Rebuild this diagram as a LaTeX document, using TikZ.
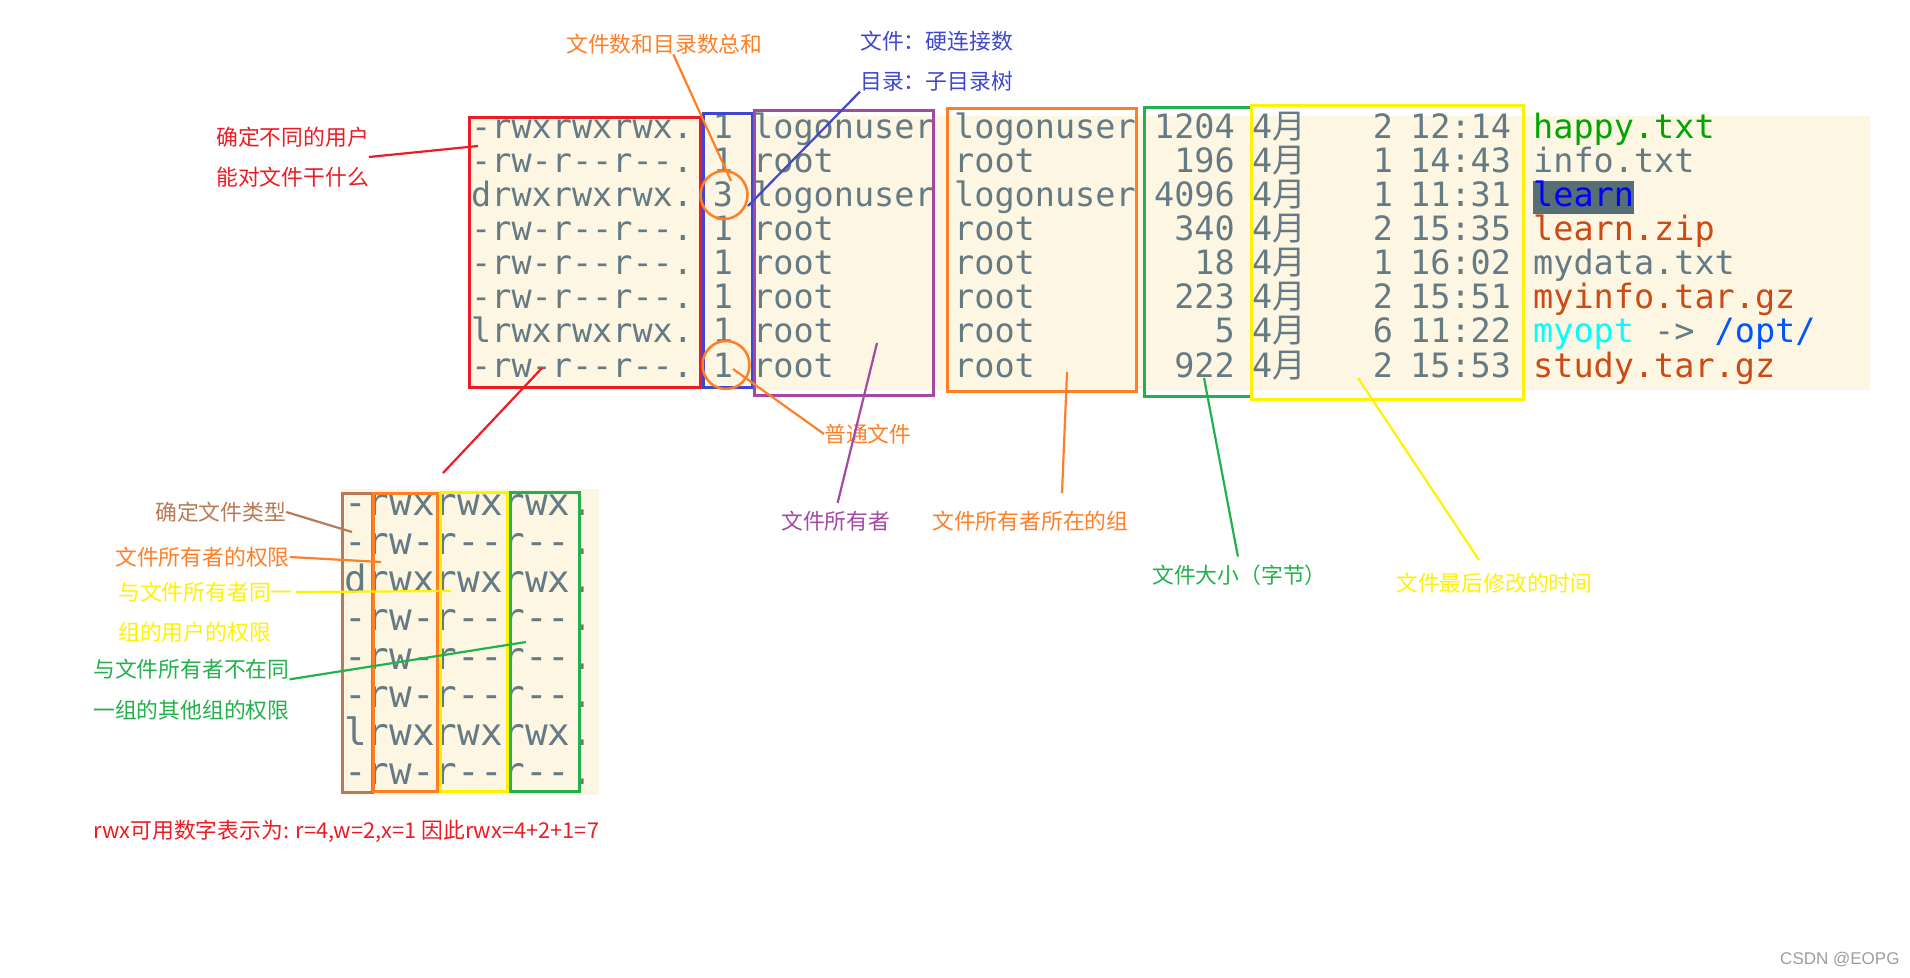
\documentclass[tikz,border=0pt]{standalone}
\usepackage{fontspec}
\usepackage{xcolor}
\usepackage{tikz}
\usetikzlibrary{positioning,shapes.geometric,calc}

\setmainfont{Noto Sans CJK SC}
\newfontfamily\ttyfont{DejaVu Sans Mono}[Ligatures=TeXOff]
\newfontfamily\zhfont{Noto Sans CJK SC}
\newfontfamily\wmfont{Liberation Sans}

\definecolor{termbg}{HTML}{FDF6E3}
\definecolor{termfg}{HTML}{657B83}
\definecolor{hlgray}{HTML}{586E75}
\definecolor{pred}{HTML}{ED1C24}
\definecolor{porange}{HTML}{FF7F27}
\definecolor{pyellow}{HTML}{FFF200}
\definecolor{pgreen}{HTML}{22B14C}
\definecolor{pblue}{HTML}{3F48CC}
\definecolor{ppurple}{HTML}{A349A4}
\definecolor{pbrown}{HTML}{B97A57}
\definecolor{fgreen}{HTML}{00A600}
\definecolor{forange}{HTML}{CB4B16}
\definecolor{fcyan}{HTML}{00FFFF}
\definecolor{fblue}{HTML}{0055FF}
\definecolor{dirblue}{HTML}{0000FF}

\newcommand{\apr}{4{\zhfont 月}}

\begin{document}
\begin{tikzpicture}[
  x=1pt, y=-1pt,
  tty/.style={inner sep=0pt, text=termfg, font=\ttyfont\fontsize{33.5}{34.1}\selectfont,
    align=left, anchor=base west},
  ttyr/.style={tty, align=right, anchor=base east},
  ttyc/.style={tty, align=center, anchor=base},
  bigtty/.style={tty, font=\ttyfont\fontsize{37.6}{38.3}\selectfont},
  lbl/.style={inner sep=0pt, font=\zhfont\fontsize{21.8}{40.5}\selectfont, align=left, anchor=west},
  colbox/.style={line width=3pt},
  ring/.style={draw=porange, line width=2.5pt, ellipse, minimum width=47pt,
    minimum height=48pt, inner sep=0pt},
  note/.style={line width=2.2pt},
]
\fill[white] (0,0) rectangle (1910,977);
\useasboundingbox (0,0) rectangle (1910,977);

% ===== ls -l listing (nodes sit on the baseline of their last row) =====
\fill[termbg] (469,116) rectangle (1870,390);
\fill[hlgray] (1533,181) rectangle (1634,214);

\node[tty] (perms) at (471,377) {-rwxrwxrwx.\\-rw-r--r--.\\drwxrwxrwx.\\-rw-r--r--.\\-rw-r--r--.\\-rw-r--r--.\\lrwxrwxrwx.\\-rw-r--r--.};
\node[ttyc] (links) at (723,377) {1\\1\\3\\1\\1\\1\\1\\1};
\node[tty] (owner) at (753,377) {logonuser\\root\\logonuser\\root\\root\\root\\root\\root};
\node[tty] (group) at (954,377) {logonuser\\root\\logonuser\\root\\root\\root\\root\\root};
\node[ttyr] (size) at (1235,377) {1204\\196\\4096\\340\\18\\223\\5\\922};
\node[tty] (month) at (1252,377) {\apr\\\apr\\\apr\\\apr\\\apr\\\apr\\\apr\\\apr};
\node[ttyc] (day) at (1383,377) {2\\1\\1\\2\\1\\2\\6\\2};
\node[tty] (time) at (1410,377) {12:14\\14:43\\11:31\\15:35\\16:02\\15:51\\11:22\\15:53};
\node[tty] (files) at (1533,377) {\textcolor{fgreen}{happy.txt}\\info.txt\\\textcolor{dirblue}{learn}\\
  \textcolor{forange}{learn.zip}\\mydata.txt\\\textcolor{forange}{myinfo.tar.gz}\\
  \textcolor{fcyan}{myopt} -> \textcolor{fblue}{/opt/}\\\textcolor{forange}{study.tar.gz}};

% column frames
\draw[colbox, pred] (469,117) rectangle (700,387);
\draw[colbox, pblue] (703,113) rectangle (752,387);
\draw[colbox, ppurple] (754,110) rectangle (933,395);
\draw[colbox, porange] (947,108) rectangle (1136,391);
\draw[colbox, pgreen] (1144,107) rectangle (1251,396);
\draw[colbox, pyellow] (1251,105) rectangle (1523,399);

\node[ring] (c3) at (724,195) {};
\node[ring] (c1) at (726,365) {};

% ===== labels, top =====
\node[lbl, text=pred] (lbuser) at (216,157) {确定不同的用户\\能对文件干什么};
\node[lbl, text=porange] (lbsum) at (566,44) {文件数和目录数总和};
\node[lbl, text=pblue] (lblink) at (860,61) {文件：硬连接数\\目录：子目录树};
\node[lbl, text=porange] (lbfile) at (824,434) {普通文件};
\node[lbl, text=ppurple] (lbowner) at (781,521) {文件所有者};
\node[lbl, text=porange] (lbgroup) at (932,521) {文件所有者所在的组};
\node[lbl, text=pgreen] (lbsize) at (1152,575) {文件大小（字节）};
\node[lbl, text=pyellow] (lbtime) at (1396,583) {文件最后修改的时间};

\coordinate (usertip) at (478,146);
\coordinate (permA) at (542,368);
\coordinate (permB) at (443,473);
\coordinate (sumtip) at (731,181);
\coordinate (linktip) at (748,206);
\coordinate (filetip) at (733,369);
\coordinate (ownertip) at (877,343);
\coordinate (grpA) at (1067,372);
\coordinate (grpB) at (1062,493);
\coordinate (sizetip) at (1204,378);
\coordinate (timeA) at (1358,378);
\coordinate (timeB) at (1479,560);

\draw[note, pred] (lbuser.east) -- (usertip);
\draw[note, pred] (permA) -- (permB);
\draw[note, porange] ([xshift=9pt]lbsum.south) -- (sumtip);
\draw[note, pblue] (lblink.south west) -- (linktip);
\draw[note, porange] (filetip) -- (lbfile.west);
\draw[note, ppurple, shorten >=8pt] (ownertip) -- (lbowner.north);
\draw[note, porange] (grpA) -- (grpB);
\draw[note, pgreen, shorten >=8pt] (sizetip) -- (lbsize.north);
\draw[note, pyellow] (timeA) -- (timeB);

% ===== permission bits, zoomed =====
\fill[termbg] (342,489) rectangle (599,795);
\node[bigtty] (bits) at (344,784) {-rwxrwxrwx.\\-rw-r--r--.\\drwxrwxrwx.\\-rw-r--r--.\\-rw-r--r--.\\-rw-r--r--.\\lrwxrwxrwx.\\-rw-r--r--.};
\draw[colbox, pbrown] (342,493) rectangle (372,792);
\draw[colbox, porange] (373,493) rectangle (437,791);
\draw[colbox, pyellow] (440,492) rectangle (507,791);
\draw[colbox, pgreen] (510,492) rectangle (579,791);

\node[lbl, text=pbrown] (lbtype) at (155,512) {确定文件类型};
\node[lbl, text=porange] (lbuperm) at (115,557) {文件所有者的权限};
\node[lbl, text=pyellow] (lbgperm) at (118,592) {与文件所有者同一};
\node[lbl, text=pyellow] (lbgpermb) at (118,632) {组的用户的权限};
\node[lbl, text=pgreen] (lboperm) at (93,669) {与文件所有者不在同};
\node[lbl, text=pgreen] (lbopermb) at (93,710) {一组的其他组的权限};

\coordinate (typetip) at (352,532);
\coordinate (upermtip) at (381,562);
\coordinate (gpermtip) at (451,591);
\coordinate (opermtip) at (526,642);

\draw[note, pbrown] (lbtype.east) -- (typetip);
\draw[note, porange] (lbuperm.east) -- (upermtip);
\draw[note, pyellow] ([xshift=3pt]lbgperm.east) -- (gpermtip);
\draw[note, pgreen] (lboperm.south east) -- (opermtip);

\node[lbl, text=pred] (lbrule) at (93,831) {rwx可用数字表示为: r=4,w=2,x=1 因此rwx=4+2+1=7};
\node[inner sep=0pt, anchor=west, text=black!38, font=\wmfont\fontsize{17}{20}\selectfont] (mark) at (1780,960) {CSDN @EOPG};
\end{tikzpicture}
\end{document}
